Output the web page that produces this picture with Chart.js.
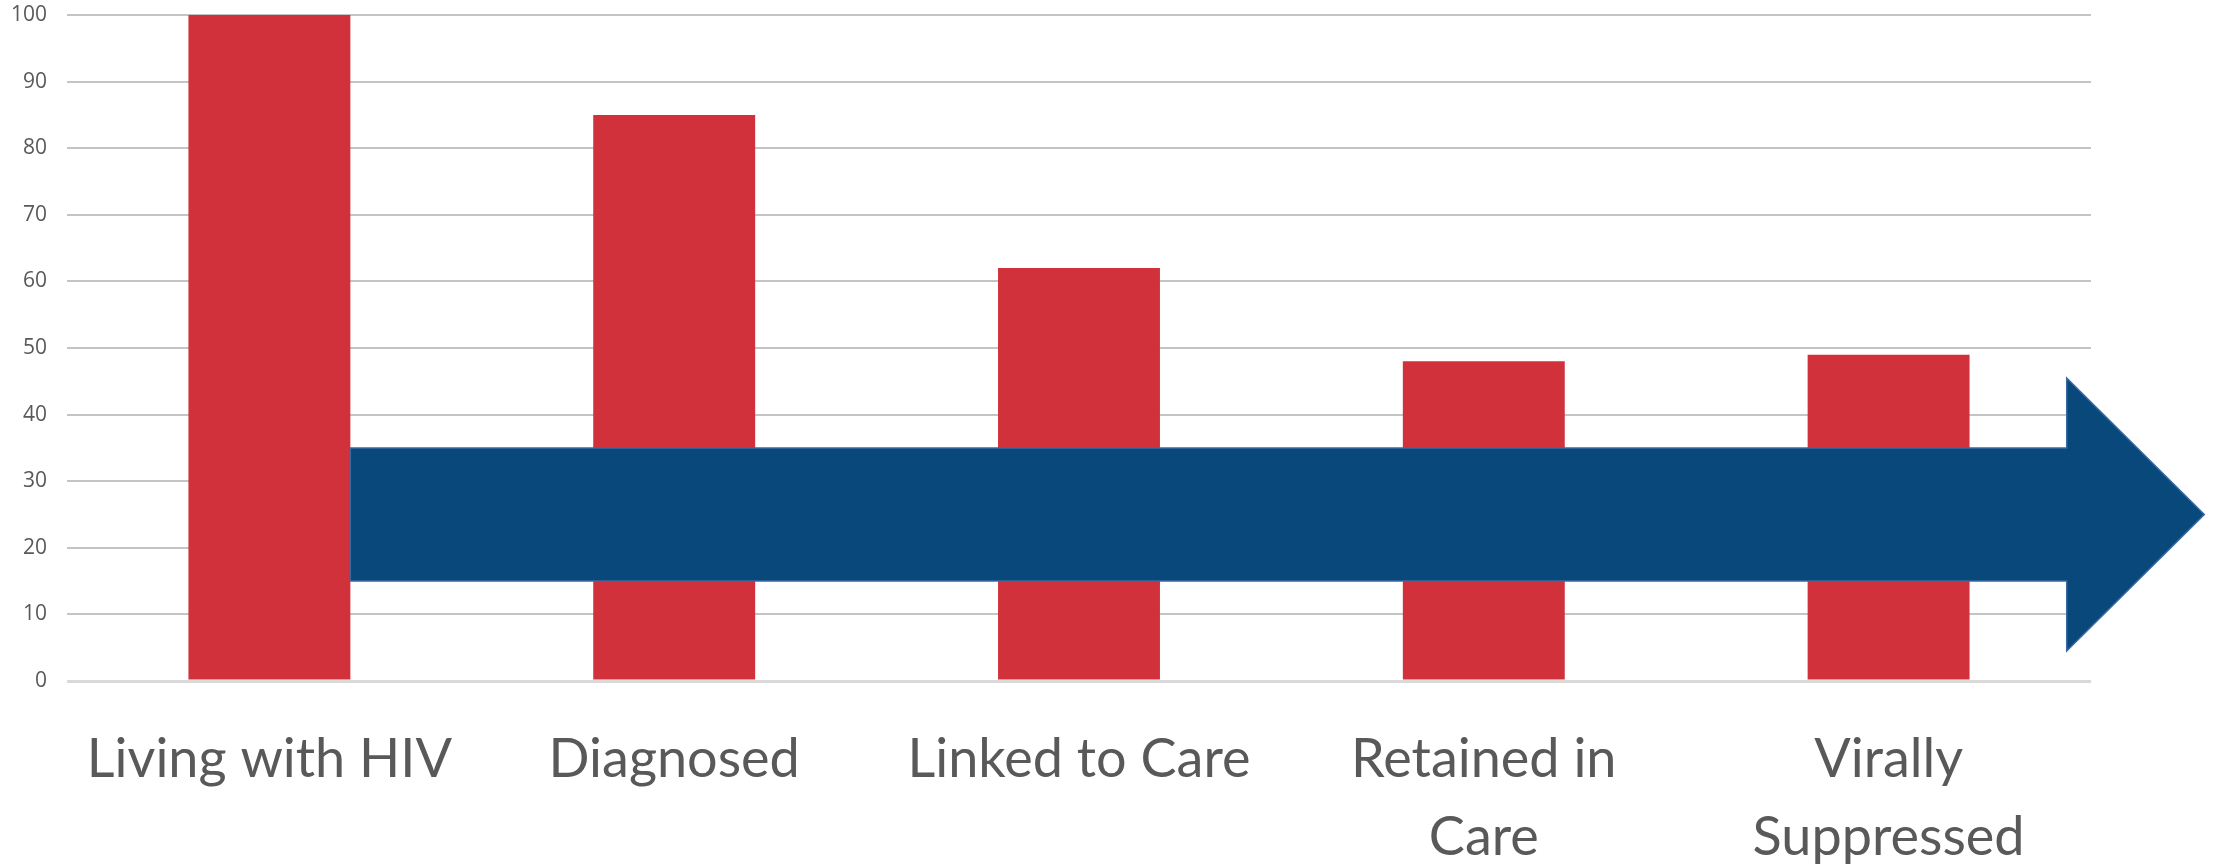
<!DOCTYPE html>
<html>
<head>
<meta charset="utf-8">
<script src="https://cdn.jsdelivr.net/npm/chart.js@4"></script>
<style>
  html, body { margin: 0; padding: 0; background: #fff; }
  #wrap { width: 2219px; height: 867px; }
</style>
</head>
<body>
<div id="wrap"><canvas id="myChart" width="2219" height="867"></canvas></div>
<script>
// categories and values
const stages = ['Living with HIV', 'Diagnosed', 'Linked to Care', ['Retained in', 'Care'], ['Virally', 'Suppressed']]
const percents = [100, 85, 62, 48, 49]
const yTicks = [0, 10, 20, 30, 40, 50, 60, 70, 80, 90, 100]

// the arrow, in axis units (x = category index, y = value)
const arrowX = [0.2, 4.44, 4.78]     // tail, head base, tip
const arrowBodyY = [15, 35]
const arrowHeadY = [4.5, 45.5]

const arrowPlugin = {
  id: 'arrow',
  afterDatasetsDraw(chart) {
    const x = chart.scales.x, y = chart.scales.y, c = chart.ctx
    const x0 = x.getPixelForValue(arrowX[0])
    const x1 = x.getPixelForValue(arrowX[1])
    const x2 = x.getPixelForValue(arrowX[2])
    const b0 = y.getPixelForValue(arrowBodyY[0]), b1 = y.getPixelForValue(arrowBodyY[1])
    const h0 = y.getPixelForValue(arrowHeadY[0]), h1 = y.getPixelForValue(arrowHeadY[1])
    const mid = (b0 + b1) / 2
    c.save()
    c.beginPath()
    c.moveTo(x0, b1)
    c.lineTo(x1, b1)
    c.lineTo(x1, h1)
    c.lineTo(x2, mid)
    c.lineTo(x1, h0)
    c.lineTo(x1, b0)
    c.lineTo(x0, b0)
    c.closePath()
    c.fillStyle = '#08487a'
    c.fill()
    c.lineWidth = 1.5
    c.strokeStyle = '#3b69a3'
    c.stroke()
    c.restore()
  }
}

const ctx = document.getElementById('myChart')

const chart = new Chart(ctx, {
  type: 'bar',
  data: {
    labels: stages,
    datasets: [{
      data: percents,
      backgroundColor: '#d0313b',
      categoryPercentage: 1,
      barPercentage: 0.4
    }]
  },
  options: {
    responsive: false,
    animation: false,
    layout: { padding: { top: 0, right: 128, left: 0, bottom: 0 } },
    plugins: { legend: { display: false }, tooltip: { enabled: false } },
    scales: {
      x: {
        grid: { display: false },
        border: { display: false },
        ticks: {
          color: '#595959',
          font: { family: 'Lato', size: 54, lineHeight: 1.45 },
          padding: 31,
          maxRotation: 0,
          autoSkip: false
        },
        afterFit(scale) { scale.height = 186 }
      },
      y: {
        min: 0,
        max: 100,
        afterBuildTicks(scale) { scale.ticks = yTicks.map(v => ({ value: v })) },
        grid: {
          drawTicks: false,
          color: ctx => ctx.tick && ctx.tick.value === 0 ? '#d9d9d9' : '#c4c4c4',
          lineWidth: ctx => ctx.tick && ctx.tick.value === 0 ? 3 : 2
        },
        border: { display: false },
        ticks: {
          color: '#595959',
          font: { family: 'Open Sans', size: 21 },
          padding: 20
        },
        afterFit(scale) {
          scale.width = 67
          scale.paddingTop = 15
          scale.paddingBottom = 0
        }
      }
    }
  },
  plugins: [arrowPlugin]
})
</script>
</body>
</html>
